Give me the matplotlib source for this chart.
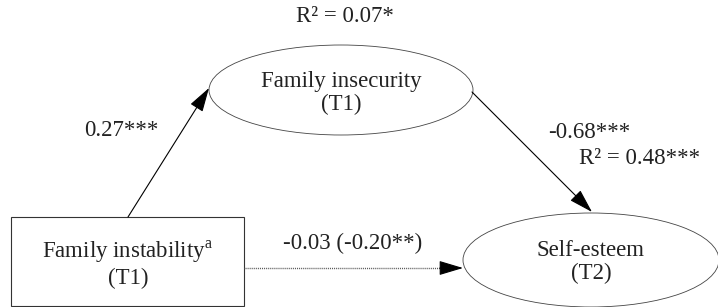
import matplotlib.pyplot as plt
from matplotlib.patches import Ellipse, Rectangle

plt.rcParams['font.family'] = ['Liberation Serif', 'DejaVu Serif']
plt.rcParams['mathtext.fontset'] = 'custom'
plt.rcParams['mathtext.rm'] = 'Liberation Serif'

# node labels
nodes = ["Family instability$^{\\mathrm{a}}$\n(T1)",
         "Family insecurity\n(T1)",
         "Self-esteem\n(T2)"]
# path estimates
paths = ["0.27***", "-0.68***", "-0.03 (-0.20**)"]
r2_labels = ["R\u00b2 = 0.07*", "R\u00b2 = 0.48***"]

fig = plt.figure(figsize=(7.18, 3.07), dpi=100)
ax = fig.add_axes([0, 0, 1, 1])
ax.set_xlim(0, 718)
ax.set_ylim(307, 0)
ax.axis('off')

fs = 16.5
txt = '#222222'
# box: family instability
ax.add_patch(Rectangle((11, 217), 233, 89, fill=False, lw=0.8, ec='#333333'))
ax.text(128, 264, nodes[0], ha='center', va='center', fontsize=fs,
        linespacing=1.15, color=txt)

# ellipse: family insecurity
ax.add_patch(Ellipse((341, 90), 264, 90, fill=False, lw=0.6, ec='#444444'))
ax.text(341, 93, nodes[1], ha='center', va='center', fontsize=fs,
        linespacing=1.15, color=txt)

# ellipse: self-esteem
ax.add_patch(Ellipse((591, 260), 256, 94, fill=False, lw=0.6, ec='#444444'))
ax.text(591, 262, nodes[2], ha='center', va='center', fontsize=fs,
        linespacing=1.15, color=txt)

arrow = dict(arrowstyle='-|>,head_length=1.5,head_width=0.45', color='black',
             lw=0.8, shrinkA=0, shrinkB=0)
ax.annotate('', xy=(209, 88), xytext=(128, 217), arrowprops=arrow)
ax.annotate('', xy=(592, 212), xytext=(472, 92), arrowprops=arrow)
# dotted direct path, solid black head
ax.plot([244, 445], [268, 268], ls=(0, (0.7, 0.7)), lw=1.0, color='#555555')
ax.annotate('', xy=(463, 268), xytext=(440, 268), arrowprops=arrow)

ax.text(121, 131, paths[0], ha='center', va='center', fontsize=fs, color=txt)
ax.text(589, 133, paths[1], ha='center', va='center', fontsize=fs, color=txt)
ax.text(353, 243, paths[2], ha='center', va='center', fontsize=fs, color=txt)
ax.text(345, 16, r2_labels[0], ha='center', va='center', fontsize=fs, color=txt)
ax.text(640, 158, r2_labels[1], ha='center', va='center', fontsize=fs, color=txt)

fig.savefig('out.png', dpi=100)
